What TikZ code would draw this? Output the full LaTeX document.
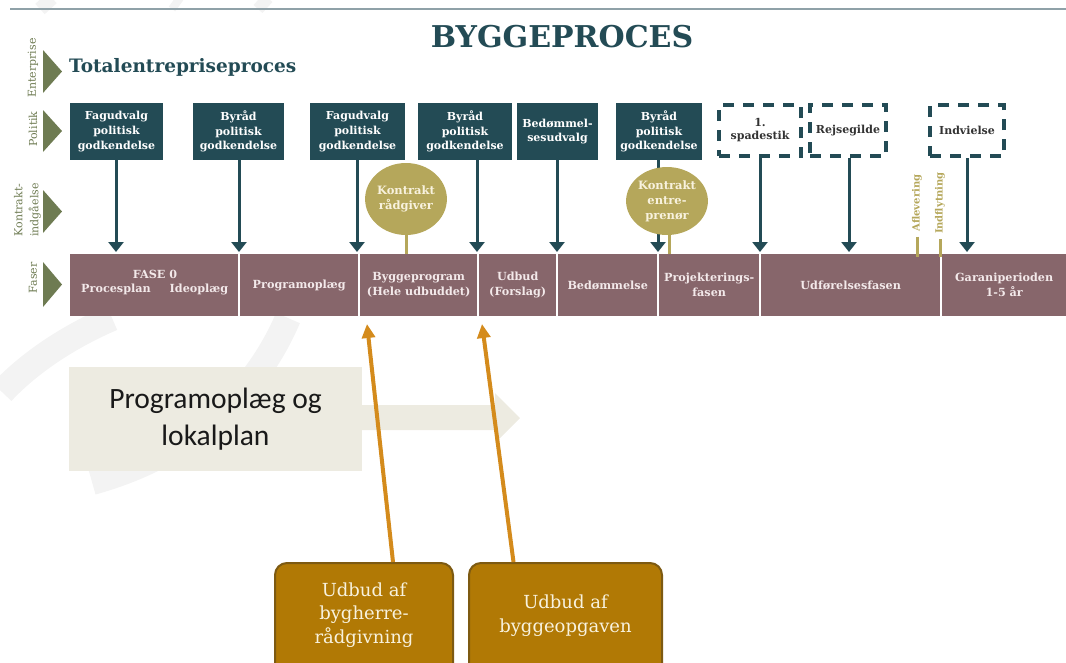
\documentclass[tikz,border=0pt]{standalone}
\usepackage{fontspec}
\setmainfont{DejaVu Serif}
\newfontfamily\calfont{Carlito}
\usetikzlibrary{arrows.meta,shapes.geometric}
\definecolor{cTeal}{HTML}{234B55}
\definecolor{cOlive}{HTML}{6E7B52}
\definecolor{cMauve}{HTML}{87666B}
\definecolor{cBarText}{HTML}{F3E9EA}
\definecolor{cGold}{HTML}{B5A75B}
\definecolor{cOrange}{HTML}{D48B1C}
\definecolor{cBrown}{HTML}{B17905}
\definecolor{cBrownD}{HTML}{7D5A12}
\definecolor{cCream}{HTML}{F8F2DE}
\definecolor{cGrayBox}{HTML}{EDEBE1}
\definecolor{cLine}{HTML}{8FA1A8}
\definecolor{cDark}{HTML}{333333}
\definecolor{cWater}{HTML}{F3F3F3}
\tikzset{
  pol/.style={fill=cTeal, text=white, minimum width=#1, minimum height=57pt, inner sep=0pt, align=center, font=\fontsize{11}{14.8}\selectfont\bfseries},
  dbox/.style={draw=cTeal, line width=4pt, dash pattern=on 11pt off 9pt, fill=white, minimum width=#1, minimum height=51pt, inner sep=0pt, align=center, font=\fontsize{11}{13}\selectfont\bfseries, text=cDark},
  seg/.style={fill=cMauve, text=cBarText, minimum width=#1, minimum height=62pt, inner sep=0pt, align=center, anchor=north west, font=\fontsize{11.2}{15}\selectfont\bfseries},
  bartext/.style={text=cBarText, inner sep=0pt, font=\fontsize{11.2}{15}\selectfont\bfseries},
  tarrow/.style={draw=cTeal, line width=3pt, -{Triangle[width=15pt,length=10pt]}, shorten >=2pt},
  stem/.style={draw=cGold, line width=3pt},
  sidelab/.style={rotate=90, text=cOlive, inner sep=0pt, font=\fontsize{11}{16}\selectfont, align=center},
  tri/.style={fill=cOlive},
  kcirc/.style={ellipse, fill=cGold, text=cCream, inner sep=0pt, align=center, font=\fontsize{11.5}{15}\selectfont\bfseries},
  vlab/.style={rotate=90, text=cGold, inner sep=2pt, font=\fontsize{10}{11}\selectfont\bfseries},
  oarrow/.style={draw=cOrange, line width=4pt, -{Triangle[width=13pt,length=14pt]}},
  ubox/.style={rounded corners=12pt, fill=cBrown, draw=cBrownD, line width=2pt, anchor=north, minimum height=140pt, minimum width=#1},
  utext/.style={text=cCream, align=center, inner sep=0pt, font=\fontsize{18}{23.5}\selectfont},
  water/.style={draw=cWater, line width=26pt},
}
\begin{document}
\begin{tikzpicture}[x=1pt,y=-1pt]
\useasboundingbox (0,0) rectangle (1066,662);
% faint background marks
\draw[water] (2,392) .. controls (30,362) and (70,336) .. (112,318);
\draw[water] (288,318) .. controls (255,395) and (190,455) .. (92,482);
\draw[water, line width=14pt] (40,9) -- (52,-2);
\draw[water, line width=8pt] (172,9) -- (180,-2);
\draw[water, line width=12pt] (258,9) -- (268,-2);
% top line
\draw[cLine, line width=2pt] (10,9) -- (1066,9);
% titles
\node[text=cTeal, inner sep=0pt, font=\fontsize{30}{30}\selectfont\bfseries] (title) at (562,37) {BYGGEPROCES};
\node[text=cTeal, inner sep=0pt, anchor=west, font=\fontsize{18.5}{20}\selectfont\bfseries] (tep) at (69,67) {Totalentrepriseproces};
% side labels and triangles
\node[sidelab] (lEnt) at (33,68) {Enterprise};
\node[sidelab] (lPol) at (33,129) {Politik};
\node[sidelab] (lKon) at (27.5,210) {Kontrakt-\\indgåelse};
\node[sidelab] (lFas) at (33,278) {Faser};
\fill[tri] (43,50) -- (62,71.5) -- (43,93) -- cycle;
\fill[tri] (43,110) -- (62,131) -- (43,152) -- cycle;
\fill[tri] (43,190) -- (62,211.5) -- (43,233) -- cycle;
\fill[tri] (43,262) -- (62,284.5) -- (43,307) -- cycle;
% phase bar
\node[seg=168pt] (s0) at (70,254) {};
\node[seg=118pt] (s1) at (240,254) {Programoplæg};
\node[seg=117pt] (s2) at (360,254) {Byggeprogram\\(Hele udbuddet)};
\node[seg=77pt] (s3) at (479,254) {Udbud\\(Forslag)};
\node[seg=99pt] (s4) at (558,254) {Bedømmelse};
\node[seg=100pt] (s5) at (659,254) {Projekterings-\\fasen};
\node[seg=179pt] (s6) at (761,254) {Udførelsesfasen};
\node[seg=124pt] (s7) at (942,254) {Garaniperioden\\1-5 år};
\node[bartext] (f0) at (155,274) {FASE 0};
\node[bartext] (f1) at (116,289) {Procesplan};
\node[bartext] (f2) at (199,289) {Ideoplæg};
% politik boxes
\node[pol=93pt] (b1) at (116.5,131.5) {Fagudvalg\\politisk\\godkendelse};
\node[pol=91pt] (b2) at (238.5,131.5) {Byråd\\politisk\\godkendelse};
\node[pol=95pt] (b3) at (357.5,131.5) {Fagudvalg\\politisk\\godkendelse};
\node[pol=94pt] (b4) at (465,131.5) {Byråd\\politisk\\godkendelse};
\node[pol=81pt] (b5) at (557.5,131.5) {Bedømmel-\\sesudvalg};
\node[pol=86pt] (b6) at (659,131.5) {Byråd\\politisk\\godkendelse};
\node[dbox=82pt] (d1) at (760,130.5) {1.\\spadestik};
\node[dbox=76pt] (d2) at (848,130.5) {Rejsegilde};
\node[dbox=74pt] (d3) at (967,130.5) {Indvielse};
% teal arrows
\draw[tarrow] ([xshift=-0.5pt]b1.south) -- ([xshift=-0.5pt]b1.south |- s0.north);
\draw[tarrow] ([xshift=0.5pt]b2.south) -- ([xshift=0.5pt]b2.south |- s1.north);
\draw[tarrow] ([xshift=-0.5pt]b3.south) -- ([xshift=-0.5pt]b3.south |- s2.north);
\draw[tarrow] ([xshift=12pt]b4.south) -- ([xshift=12pt]b4.south |- s2.north);
\draw[tarrow] ([xshift=-0.5pt]b5.south) -- ([xshift=-0.5pt]b5.south |- s4.north);
\draw[tarrow] ([xshift=-1pt]b6.south) -- ([xshift=-1pt]b6.south |- s5.north);
\draw[tarrow] (d1.south) -- (d1.south |- s5.north);
\draw[tarrow] ([xshift=1pt]d2.south) -- ([xshift=1pt]d2.south |- s6.north);
\draw[tarrow] (d3.south) -- (d3.south |- s7.north);
% contract circles
\node[kcirc, minimum width=80pt, minimum height=72pt] (c1) at (406,199) {Kontrakt\\rådgiver};
\draw[stem] (c1.south) -- (c1.south |- s2.north);
\node[kcirc, minimum width=80pt, minimum height=68pt] (c2) at (667,201) {Kontrakt\\entre-\\prenør};
\draw[stem] ([xshift=2pt]c2.south) -- ([xshift=2pt]c2.south |- s5.north);
% aflevering / indflytning
\node[vlab] (af) at (917,203) {Aflevering};
\draw[stem] ([yshift=-3pt]af.west) -- ([yshift=-3pt]af.west |- s6.north);
\node[vlab] (ind) at (940,203) {Indflytning};
\draw[stem] ([yshift=-3pt]ind.west) -- ([yshift=-3pt]ind.west |- s6.north);
% gray block arrow and box
\fill[cGrayBox] (340,405) -- (495,405) -- (495,393) -- (520,418) -- (495,443) -- (495,430) -- (340,430) -- cycle;
\node[fill=cGrayBox, minimum width=293pt, minimum height=104pt, inner sep=0pt, align=center, text=black!90, font=\calfont\fontsize{29.5}{37}\selectfont] (g) at (215.5,419) {Programoplæg og\\lokalplan};
% bottom boxes
\node[ubox=178pt] (u1) at (364,562) {};
\node[utext] (u1t) at (364,615) {Udbud af\\bygherre-\\rådgivning};
\node[ubox=193pt] (u2) at (565.5,562) {};
\node[utext] (u2t) at (565.5,615.5) {Udbud af\\byggeopgaven};
% orange arrows
\coordinate (t1) at (367,324);
\coordinate (t2) at (482,324);
\draw[oarrow] ([xshift=29pt]u1.north) -- (t1);
\draw[oarrow] ([xshift=-52pt]u2.north) -- (t2);
\end{tikzpicture}
\end{document}
